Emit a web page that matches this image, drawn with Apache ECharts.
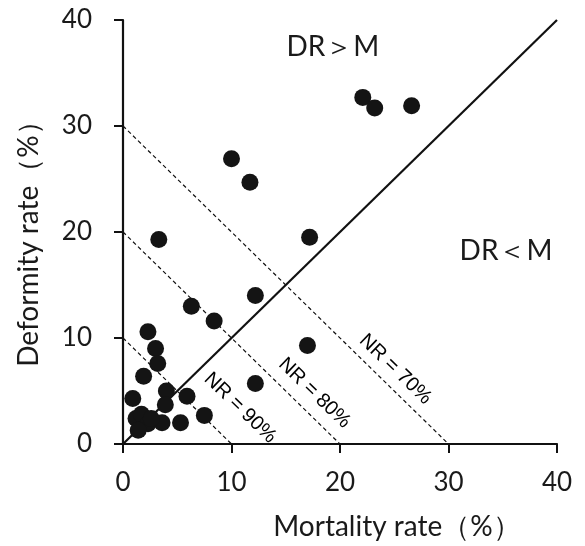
<!DOCTYPE html>
<html>
<head>
<meta charset="utf-8">
<script src="https://cdn.jsdelivr.net/npm/echarts@6/dist/echarts.min.js"></script>
<style>html,body{margin:0;padding:0;background:#fff;}#c{width:585px;height:546px;}</style>
</head>
<body>
<div id="c"></div>
<script>
// Data
var mortality = [22.1, 23.2, 26.6, 10.0, 11.7, 3.3, 17.2, 12.2, 6.3, 8.4, 2.3, 17.0, 3.0, 3.2, 1.9, 12.2, 4.0, 0.9, 5.9, 3.9, 7.5, 5.3, 3.6, 1.2, 1.7, 2.3, 1.4, 2.6];
var deformity = [32.7, 31.7, 31.9, 26.9, 24.7, 19.3, 19.5, 14.0, 13.0, 11.6, 10.6, 9.3, 9.0, 7.6, 6.4, 5.7, 5.0, 4.3, 4.5, 3.7, 2.7, 2.0, 2.0, 2.4, 2.8, 1.9, 1.3, 2.4];
var nrIntercepts = [10, 20, 30];           // x + y = c  (NR = 90%, 80%, 70%)
var nrLabels = ['NR = 90%', 'NR = 80%', 'NR = 70%'];
var equalityRange = [0, 40];               // y = x
var axisTicks = [0, 10, 20, 30, 40];
var regionLabels = ['DR\uFF1EM', 'DR\uFF1CM'];
var xName = 'Mortality rate\uFF08%\uFF09';
var yName = 'Deformity rate\uFF08%\uFF09';

var points = mortality.map(function (m, i) { return [m, deformity[i]]; });
var nrLabelPos = [[10.8, 3.4], [17.65, 4.8], [25.1, 7.05]];
var regionPos = [[19.35, 37.5], [35.3, 18.2]];

var chart = echarts.init(document.getElementById('c'), null, { renderer: 'canvas' });
var tickFont = { fontFamily: 'Lato', fontSize: 26, color: '#1a1a1a' };

var series = [];
nrIntercepts.forEach(function (c, i) {
  series.push({
    type: 'line', silent: true, symbol: 'none', z: 2,
    data: [[0, c], [c, 0]],
    lineStyle: { color: '#111', width: 1.2, type: [4, 3] }
  });
});
series.push({
  type: 'line', silent: true, symbol: 'none', z: 3,
  data: [[equalityRange[0], equalityRange[0]], [equalityRange[1], equalityRange[1]]],
  lineStyle: { color: '#111', width: 2.2 }
});
series.push({
  type: 'scatter', z: 5, symbol: 'circle', symbolSize: 17,
  itemStyle: { color: '#141414', opacity: 1 },
  data: points
});
series.push({
  type: 'scatter', z: 6, symbolSize: 0, silent: true,
  itemStyle: { opacity: 1, color: '#000' },
  data: nrLabels.map(function (t, i) { return { value: nrLabelPos[i], name: t }; }),
  label: {
    show: true, position: 'inside', rotate: -44, formatter: '{b}', opacity: 1,
    fontFamily: 'Liberation Sans', fontSize: 20, color: '#000'
  }
});
series.push({
  type: 'scatter', z: 6, symbolSize: 0, silent: true,
  itemStyle: { opacity: 1, color: '#000' },
  data: regionLabels.map(function (t, i) { return { value: regionPos[i], name: t }; }),
  label: {
    show: true, position: 'inside', formatter: '{b}', opacity: 1,
    fontFamily: 'Lato', fontSize: 28, color: '#1a1a1a'
  }
});

chart.setOption({
  animation: false,
  backgroundColor: '#fff',
  grid: { left: 123, right: 28, top: 20, bottom: 101, containLabel: false },
  xAxis: {
    type: 'value', min: axisTicks[0], max: axisTicks[axisTicks.length - 1], interval: 10,
    name: xName, nameLocation: 'middle', nameGap: 69,
    nameTextStyle: { fontFamily: 'Lato', fontSize: 28, color: '#1a1a1a', padding: [0, 0, 0, 114] },
    axisLine: { show: true, lineStyle: { color: '#111', width: 2.2 } },
    axisTick: { show: true, inside: false, length: 9, lineStyle: { color: '#111', width: 2 } },
    axisLabel: Object.assign({ margin: 26 }, tickFont),
    splitLine: { show: false }
  },
  yAxis: {
    type: 'value', min: axisTicks[0], max: axisTicks[axisTicks.length - 1], interval: 10,
    name: yName, nameLocation: 'middle', nameGap: 80, nameRotate: 90,
    nameTextStyle: { fontFamily: 'Lato', fontSize: 28, color: '#1a1a1a', padding: [0, 10, 0, 0] },
    axisLine: { show: true, lineStyle: { color: '#111', width: 2.2 } },
    axisTick: { show: true, inside: false, length: 9, lineStyle: { color: '#111', width: 2 } },
    axisLabel: Object.assign({ margin: 31 }, tickFont),
    splitLine: { show: false }
  },
  series: series
});
</script>
</body>
</html>
